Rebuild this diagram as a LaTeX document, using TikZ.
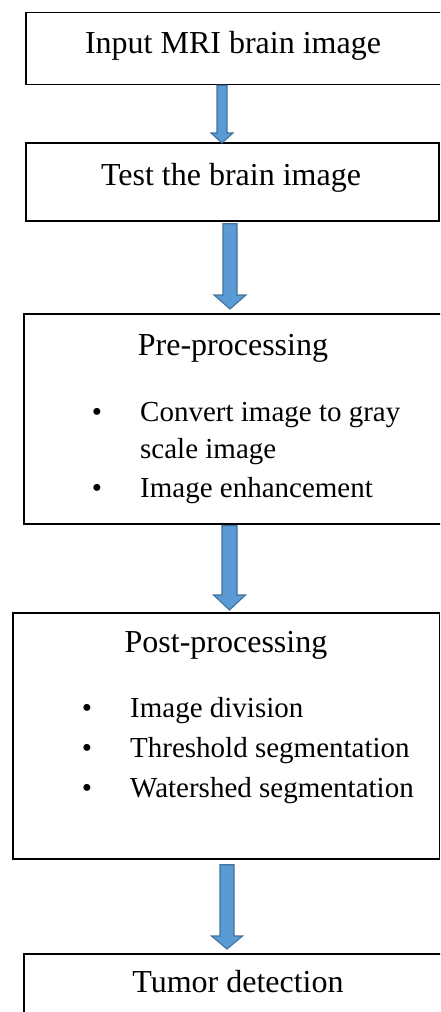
\documentclass[tikz,border=0pt]{standalone}
\usepackage{fontspec}
\setmainfont{Liberation Serif}
\usetikzlibrary{calc}

% 块状箭头：起点、终点、杆半宽、头半宽、头长
\newcommand{\blockarrow}[5]{%
  \path[flow]
    let \p1=(#1), \p2=(#2) in
    (\x1-#3,\y1) -- (\x1+#3,\y1)
    -- (\x1+#3,\y2+#5) -- (\x1+#4,\y2+#5)
    -- (\x1,\y2)
    -- (\x1-#4,\y2+#5) -- (\x1-#3,\y2+#5)
    -- cycle;%
}

\begin{document}
\begin{tikzpicture}[
  x=1pt,
  y=-1pt,
  line join=miter,
  stepbox/.style={
    draw=black,
    line width=1.7pt,
    rectangle,
    inner sep=0pt,
    anchor=north west
  },
  flow/.style={
    fill=arrowfill,
    draw=arrowedge,
    line width=1.1pt
  },
  title/.style={
    font=\fontsize{32}{38}\selectfont,
    inner sep=0pt,
    anchor=base
  },
  item/.style={
    font=\fontsize{29}{35}\selectfont,
    inner sep=0pt,
    anchor=base west
  },
  dot/.style={
    font=\fontsize{29}{35}\selectfont,
    inner sep=0pt,
    anchor=base
  }
]
  \definecolor{arrowfill}{HTML}{5B9BD5}
  \definecolor{arrowedge}{HTML}{41719C}

  \clip (0,0) rectangle (440,1012);
  \useasboundingbox (0,0) rectangle (440,1012);

  % 方框
  \node[stepbox,minimum width=425pt,minimum height=72pt]
    (input) at (25,11.5) {};
  \node[stepbox,minimum width=413pt,minimum height=78pt]
    (test) at (25,142) {};
  \node[stepbox,minimum width=425pt,minimum height=210pt]
    (pre) at (23,313) {};
  \node[stepbox,minimum width=426.5pt,minimum height=246pt]
    (post) at (12,612) {};
  \node[stepbox,minimum width=425pt,minimum height=70pt]
    (tumor) at (23,953) {};

  % 文字
  \node[title] (tinput) at (233,53) {Input MRI brain image};
  \node[title] (ttest) at (231,185) {Test the brain image};

  \node[title] (tpre) at (233,355) {Pre-processing};
  \node[dot] (d1) at (97,421) {\textbullet};
  \node[item] (i1) at (140,421) {Convert image to gray};
  \node[item] (i2) at (140,458) {scale image};
  \node[dot] (d2) at (97,497) {\textbullet};
  \node[item] (i3) at (140,497) {Image enhancement};

  \node[title] (tpost) at (226,652) {Post-processing};
  \node[dot] (d3) at (87,717) {\textbullet};
  \node[item] (i4) at (130,717) {Image division};
  \node[dot] (d4) at (87,757) {\textbullet};
  \node[item] (i5) at (130,757) {Threshold segmentation};
  \node[dot] (d5) at (87,797) {\textbullet};
  \node[item] (i6) at (130,797) {Watershed segmentation};

  \node[title] (ttumor) at (238,992) {Tumor detection};

  % 箭头中线
  \coordinate (c1) at (222,0);
  \coordinate (c2) at (230,0);
  \coordinate (c3) at (229.5,0);
  \coordinate (c4) at (227,0);

  \blockarrow{input.south -| c1}{[yshift=-1pt]test.north -| c1}{5}{11}{10}
  \blockarrow{[yshift=-2pt]test.south -| c2}{[yshift=4pt]pre.north -| c2}{7}{16}{14}
  \blockarrow{[yshift=-1pt]pre.south -| c3}{[yshift=2pt]post.north -| c3}{7.5}{16}{15}
  \blockarrow{[yshift=-5pt]post.south -| c4}{[yshift=4pt]tumor.north -| c4}{7}{15.5}{13}

\end{tikzpicture}
\end{document}
